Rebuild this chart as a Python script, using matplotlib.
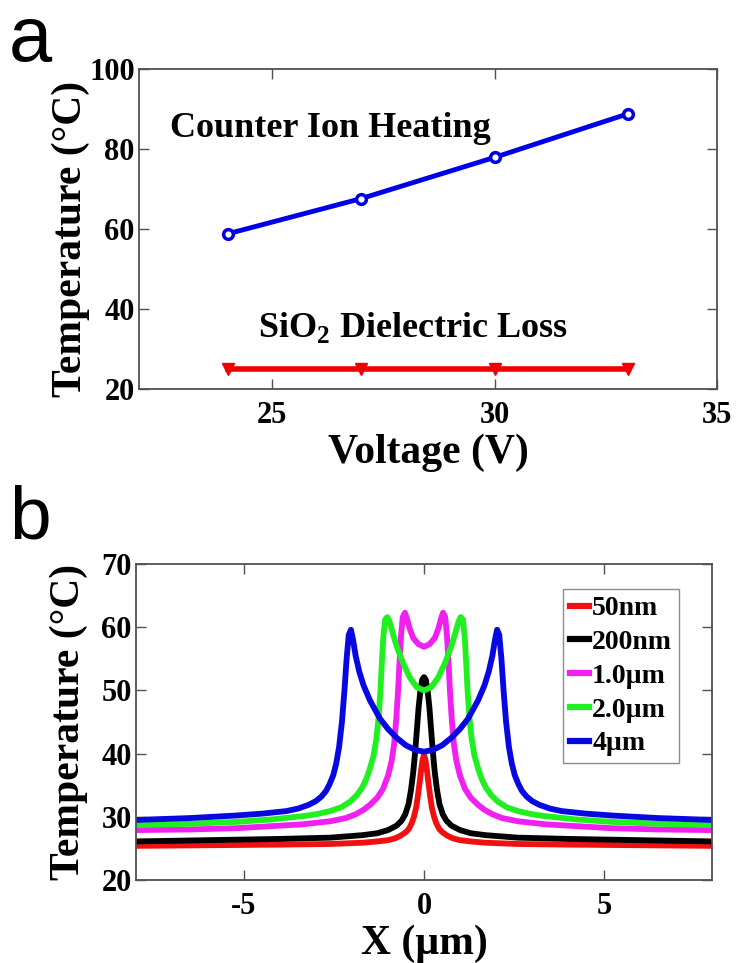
import matplotlib
matplotlib.use("Agg")
import matplotlib.pyplot as plt

plt.rcParams["font.family"] = ["Liberation Serif", "DejaVu Serif"]
plt.rcParams["font.weight"] = "bold"
plt.rcParams["axes.labelweight"] = "bold"
plt.rcParams["axes.unicode_minus"] = False
plt.rcParams["mathtext.fontset"] = "custom"
plt.rcParams["mathtext.rm"] = "Liberation Serif:bold"

# panel a ---------------------------------------------------------------------
voltage = [24, 27, 30, 33]
temp_counter_ion = [58.8, 67.6, 77.9, 88.8]
temp_sio2 = [25.0, 25.0, 25.0, 25.0]

# panel b ---------------------------------------------------------------------
labels_b = ["50nm", "200nm", "1.0\u00b5m", "2.0\u00b5m", "4\u00b5m"]
colors_b = ["#f01010", "black", "#f020f0", "#20f020", "#0808e0"]

x_50nm = [-8, -6, -4, -2.6, -1.7, -1.3, -1.0, -0.8, -0.65, -0.5, -0.42, -0.34, -0.28,
          -0.22, -0.17, -0.12, -0.08, -0.04, 0,
          0.04, 0.08, 0.12, 0.17, 0.22, 0.28, 0.34, 0.42, 0.5, 0.65, 0.8, 1.0, 1.3, 1.7,
          2.6, 4, 6, 8]
t_50nm = [25.4, 25.5, 25.6, 25.7, 25.9, 26.1, 26.3, 26.6, 27.0, 27.6, 28.1, 29.0, 30.0,
          31.4, 33.3, 35.5, 37.4, 39.0, 39.8,
          39.0, 37.4, 35.5, 33.3, 31.4, 30.0, 29.0, 28.1, 27.6, 27.0, 26.6, 26.3, 26.1, 25.9,
          25.7, 25.6, 25.5, 25.4]

x_200nm = [-8, -6, -4, -2.6, -1.7, -1.3, -1.0, -0.76, -0.62, -0.52, -0.43, -0.36, -0.3,
           -0.25, -0.2, -0.15, -0.1, -0.05, 0,
           0.05, 0.1, 0.15, 0.2, 0.25, 0.3, 0.36, 0.43, 0.52, 0.62, 0.76, 1.0, 1.3, 1.7,
           2.6, 4, 6, 8]
t_200nm = [26.1, 26.3, 26.5, 26.7, 27.1, 27.4, 27.9, 28.6, 29.4, 30.4, 32.0, 34.3, 37.0,
           40.0, 43.6, 47.3, 50.0, 51.7, 52.1,
           51.7, 50.0, 47.3, 43.6, 40.0, 37.0, 34.3, 32.0, 30.4, 29.4, 28.6, 27.9, 27.4, 27.1,
           26.7, 26.5, 26.3, 26.1]

x_1um = [-8, -6.5, -5.2, -4.3, -3.4, -2.6, -2.17, -1.9, -1.68, -1.5, -1.3, -1.14, -1.0,
         -0.9, -0.83, -0.77, -0.72, -0.68, -0.64, -0.59, -0.53, -0.47, -0.4, -0.3, -0.15, 0,
         0.15, 0.3, 0.4, 0.47, 0.53, 0.59, 0.64, 0.68, 0.72, 0.77, 0.83, 0.9, 1.0,
         1.14, 1.3, 1.5, 1.68, 1.9, 2.17, 2.6, 3.4, 4.3, 5.2, 6.5, 8]
t_1um = [27.9, 28.0, 28.2, 28.5, 28.8, 29.3, 29.8, 30.4, 31.1, 31.9, 33.0, 34.4, 36.5,
         38.8, 41.5, 45.5, 50.0, 54.5, 58.5, 61.6, 62.3, 61.3, 59.8, 58.3, 57.3, 56.9,
         57.3, 58.3, 59.8, 61.3, 62.3, 61.6, 58.5, 54.5, 50.0, 45.5, 41.5, 38.8, 36.5,
         34.4, 33.0, 31.9, 31.1, 30.4, 29.8, 29.3, 28.8, 28.5, 28.2, 28.0, 27.9]

x_2um = [-8, -6.5, -5.2, -4.2, -3.37, -3.0, -2.61, -2.3, -2.05, -1.87, -1.72, -1.6, -1.5,
         -1.4, -1.32, -1.26, -1.21, -1.17, -1.13, -1.08, -1.02, -0.96, -0.88, -0.76, -0.58,
         -0.39, -0.2, 0,
         0.2, 0.39, 0.58, 0.76, 0.88, 0.96, 1.02, 1.08, 1.13, 1.17, 1.21, 1.26, 1.32, 1.4,
         1.5, 1.6, 1.72, 1.87, 2.05, 2.3, 2.61, 3.0, 3.37, 4.2, 5.2, 6.5, 8]
t_2um = [28.7, 28.9, 29.2, 29.6, 30.1, 30.4, 30.9, 31.5, 32.4, 33.4, 34.6, 36.0, 37.7,
         39.7, 42.5, 45.8, 50.0, 54.5, 58.5, 61.2, 61.6, 60.9, 59.3, 57.0, 54.3,
         52.0, 50.5, 50.0,
         50.5, 52.0, 54.3, 57.0, 59.3, 60.9, 61.6, 61.2, 58.5, 54.5, 50.0, 45.8, 42.5, 39.7,
         37.7, 36.0, 34.6, 33.4, 32.4, 31.5, 30.9, 30.4, 30.1, 29.6, 29.2, 28.9, 28.7]

x_4um = [-8, -6.5, -5.22, -4.5, -3.83, -3.5, -3.2, -3.0, -2.85, -2.72, -2.62, -2.52, -2.44,
         -2.36, -2.28, -2.21, -2.15, -2.09, -2.03, -1.97, -1.9, -1.8, -1.68, -1.5, -1.22,
         -1.0, -0.76, -0.5, -0.25, 0,
         0.25, 0.5, 0.76, 1.0, 1.22, 1.5, 1.68, 1.8, 1.9, 1.97, 2.03, 2.09, 2.15, 2.21,
         2.28, 2.36, 2.44, 2.52, 2.62, 2.72, 2.85, 3.0, 3.2, 3.5, 3.83, 4.5, 5.22, 6.5, 8]
t_4um = [29.5, 29.8, 30.2, 30.5, 30.9, 31.3, 31.9, 32.5, 33.2, 34.1, 35.2, 36.6, 38.4,
         41.0, 45.0, 50.0, 55.0, 58.8, 59.6, 58.0, 55.5, 53.0, 50.8, 48.4, 45.5,
         43.9, 42.5, 41.3, 40.6, 40.3,
         40.6, 41.3, 42.5, 43.9, 45.5, 48.4, 50.8, 53.0, 55.5, 58.0, 59.6, 58.8, 55.0, 50.0,
         45.0, 41.0, 38.4, 36.6, 35.2, 34.1, 33.2, 32.5, 31.9, 31.3, 30.9, 30.5, 30.2, 29.8, 29.5]

xs_b = [x_50nm, x_200nm, x_1um, x_2um, x_4um]
ts_b = [t_50nm, t_200nm, t_1um, t_2um, t_4um]

SPINE_COLOR = "#505050"


def style_axes(ax):
    for spine in ax.spines.values():
        spine.set_color(SPINE_COLOR)
        spine.set_linewidth(1.3)
    ax.tick_params(axis="both", which="major", direction="in", top=True, right=True,
                   length=7, width=1.0, color=SPINE_COLOR, labelsize=22)
    ax.tick_params(axis="x", pad=9)
    ax.tick_params(axis="y", pad=3)


fig = plt.figure(figsize=(7.36, 9.63), dpi=100)

ax1 = fig.add_axes([0.1889, 0.5961, 0.7853, 0.3323])
ax1.plot(voltage, temp_counter_ion, "-o", color="#0000e6", lw=3.5, ms=7,
         mfc="white", mew=2.5)
ax1.plot(voltage, temp_sio2, "-v", color="#f00000", lw=4, ms=9)
ax1.set_xlim(22, 35)
ax1.set_ylim(20, 100)
ax1.set_xticks([25, 30, 35])
ax1.set_yticks([20, 40, 60, 80, 100])
style_axes(ax1)
ax1.set_xlabel("Voltage (V)", fontsize=30, labelpad=2)
ax1.set_ylabel("Temperature (\u00b0C)", fontsize=30)
ax1.yaxis.set_label_coords(-0.085, 0.47)
ax1.text(22.7, 83, "Counter Ion Heating", fontsize=26)
ax1.text(24.68, 33, r"SiO$_\mathregular{2}$ Dielectric Loss", fontsize=26)

ax2 = fig.add_axes([0.1848, 0.0862, 0.7826, 0.3281])
for x, t, c, lab in zip(xs_b, ts_b, colors_b, labels_b):
    ax2.plot(x, t, "-", color=c, lw=4.2, label=lab, solid_joinstyle="round")
ax2.set_xlim(-8, 8)
ax2.set_ylim(20, 70)
ax2.set_xticks([-5, 0, 5])
ax2.set_yticks([20, 30, 40, 50, 60, 70])
style_axes(ax2)
ax2.set_xlabel("X (\u00b5m)", fontsize=30, labelpad=2)
ax2.set_ylabel("Temperature (\u00b0C)", fontsize=30)
ax2.yaxis.set_label_coords(-0.083, 0.5)
leg = ax2.legend(loc="upper right", bbox_to_anchor=(0.943, 0.921), borderaxespad=0,
                 fontsize=20, handlelength=0.7, handletextpad=0.1, labelspacing=0.3,
                 frameon=True, fancybox=False, borderpad=0.25)
leg.get_frame().set_edgecolor("#707070")
leg.get_frame().set_linewidth(1.0)
for line in leg.get_lines():
    line.set_linewidth(4.5)

fig.text(0.012, 0.937, "a", fontsize=56, family="Liberation Sans", fontweight="normal")
fig.text(0.012, 0.441, "b", fontsize=54, family="Liberation Sans", fontweight="normal")

fig.savefig("out.png", dpi=100)
